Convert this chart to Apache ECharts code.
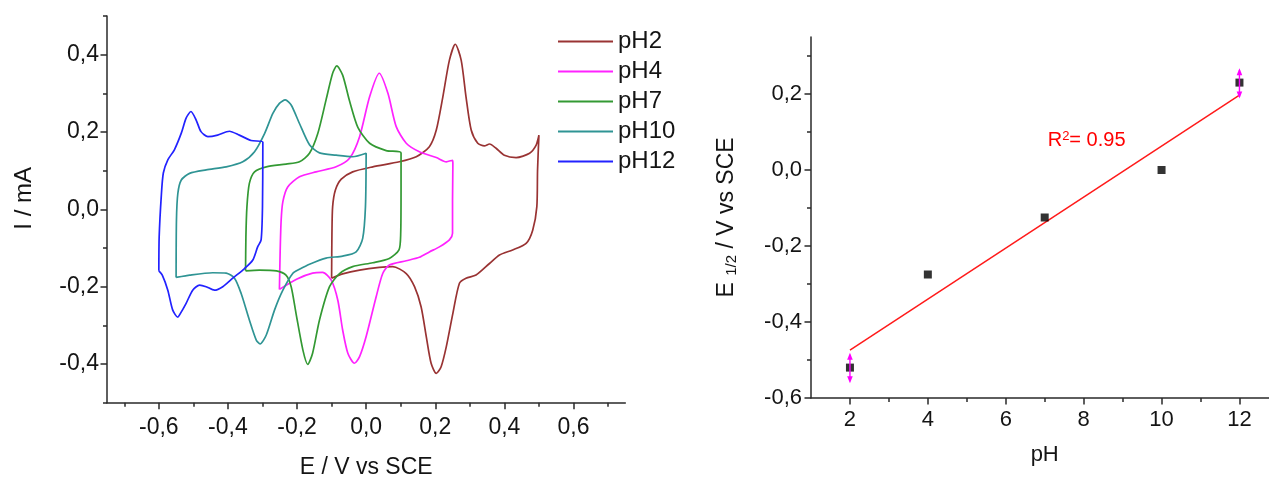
<!DOCTYPE html>
<html><head><meta charset="utf-8">
<script src="https://cdn.jsdelivr.net/npm/echarts@6/dist/echarts.min.js"></script>
<style>html,body{margin:0;padding:0;background:#fff}#c{width:1269px;height:479px}</style>
</head><body><div id="c"></div>
<script>
// ---------- Left chart: cyclic voltammograms (E / V, I / mA) ----------
const seriesNames = ['pH2', 'pH4', 'pH7', 'pH10', 'pH12'];
const seriesColors = ['#993333', '#ff22ff', '#339933', '#2f9494', '#2222ff'];

const cvPH2 = [[-0.100,-0.178],[-0.099,-0.062],[-0.097,0.007],[-0.089,0.050],[-0.072,0.078],[-0.039,0.097],[0.019,0.110],[0.096,0.123],[0.145,0.136],[0.183,0.162],[0.203,0.205],[0.222,0.291],[0.241,0.386],[0.258,0.427],[0.275,0.386],[0.289,0.291],[0.304,0.205],[0.323,0.171],[0.342,0.164],[0.357,0.169],[0.376,0.158],[0.400,0.140],[0.434,0.134],[0.473,0.145],[0.492,0.166],[0.500,0.192],[0.496,0.100],[0.494,0.007],[0.482,-0.054],[0.463,-0.088],[0.424,-0.105],[0.386,-0.118],[0.357,-0.140],[0.318,-0.170],[0.289,-0.178],[0.270,-0.191],[0.251,-0.269],[0.232,-0.355],[0.217,-0.407],[0.203,-0.424],[0.188,-0.398],[0.174,-0.329],[0.159,-0.252],[0.140,-0.200],[0.116,-0.166],[0.077,-0.148],[0.038,-0.150],[-0.019,-0.157],[-0.068,-0.167],[-0.100,-0.178]];
const cvPH4 = [[-0.251,-0.207],[-0.249,-0.114],[-0.246,-0.028],[-0.241,0.020],[-0.227,0.058],[-0.193,0.084],[-0.145,0.097],[-0.087,0.110],[-0.048,0.132],[-0.019,0.188],[0.010,0.291],[0.038,0.352],[0.063,0.300],[0.087,0.214],[0.116,0.171],[0.154,0.149],[0.203,0.134],[0.232,0.123],[0.250,0.127],[0.251,0.119],[0.250,0.024],[0.250,-0.062],[0.241,-0.079],[0.212,-0.097],[0.183,-0.110],[0.154,-0.124],[0.116,-0.133],[0.067,-0.144],[0.048,-0.166],[0.029,-0.226],[0.000,-0.329],[-0.019,-0.381],[-0.034,-0.398],[-0.053,-0.372],[-0.068,-0.312],[-0.082,-0.235],[-0.101,-0.183],[-0.126,-0.163],[-0.155,-0.165],[-0.200,-0.180],[-0.251,-0.207]];
const cvPH7 = [[-0.349,-0.159],[-0.348,-0.071],[-0.345,0.007],[-0.338,0.067],[-0.323,0.097],[-0.289,0.110],[-0.232,0.117],[-0.193,0.123],[-0.164,0.145],[-0.140,0.196],[-0.116,0.283],[-0.097,0.352],[-0.085,0.371],[-0.068,0.347],[-0.048,0.280],[-0.024,0.212],[0.010,0.171],[0.058,0.152],[0.101,0.146],[0.101,0.050],[0.100,-0.062],[0.095,-0.105],[0.067,-0.127],[0.019,-0.138],[-0.039,-0.148],[-0.077,-0.166],[-0.106,-0.200],[-0.135,-0.286],[-0.155,-0.372],[-0.169,-0.401],[-0.183,-0.364],[-0.203,-0.269],[-0.217,-0.200],[-0.232,-0.170],[-0.260,-0.159],[-0.309,-0.157],[-0.349,-0.159]];
const cvPH10 = [[-0.550,-0.176],[-0.549,-0.028],[-0.545,0.041],[-0.535,0.076],[-0.511,0.093],[-0.463,0.102],[-0.405,0.110],[-0.357,0.123],[-0.323,0.149],[-0.294,0.196],[-0.270,0.248],[-0.251,0.274],[-0.234,0.283],[-0.217,0.270],[-0.193,0.222],[-0.164,0.167],[-0.135,0.146],[-0.087,0.140],[-0.039,0.136],[0.000,0.145],[-0.002,0.007],[-0.010,-0.075],[-0.029,-0.110],[-0.068,-0.121],[-0.116,-0.126],[-0.164,-0.142],[-0.193,-0.155],[-0.212,-0.165],[-0.241,-0.209],[-0.265,-0.260],[-0.289,-0.325],[-0.307,-0.348],[-0.318,-0.338],[-0.338,-0.286],[-0.362,-0.217],[-0.381,-0.178],[-0.405,-0.165],[-0.444,-0.164],[-0.511,-0.170],[-0.550,-0.176]];
const cvPH12 = [[-0.600,-0.159],[-0.599,-0.071],[-0.593,0.033],[-0.587,0.094],[-0.574,0.128],[-0.555,0.154],[-0.535,0.197],[-0.521,0.236],[-0.507,0.253],[-0.492,0.231],[-0.478,0.201],[-0.458,0.188],[-0.430,0.192],[-0.396,0.202],[-0.367,0.192],[-0.333,0.178],[-0.299,0.174],[-0.300,0.007],[-0.304,-0.079],[-0.314,-0.097],[-0.328,-0.131],[-0.352,-0.153],[-0.386,-0.178],[-0.415,-0.200],[-0.439,-0.209],[-0.463,-0.200],[-0.482,-0.196],[-0.502,-0.209],[-0.521,-0.243],[-0.540,-0.273],[-0.545,-0.279],[-0.560,-0.260],[-0.574,-0.209],[-0.590,-0.170],[-0.600,-0.159]];
const cvData = [cvPH2, cvPH4, cvPH7, cvPH10, cvPH12];

const xTicksLeft = [-0.6, -0.4, -0.2, 0, 0.2, 0.4, 0.6];
const xMinorLeft = [-0.7, -0.5, -0.3, -0.1, 0.1, 0.3, 0.5, 0.7];
const yTicksLeft = [-0.4, -0.2, 0, 0.2, 0.4];
const yMinorLeft = [-0.5, -0.3, -0.1, 0.1, 0.3, 0.5];

// ---------- Right chart: E1/2 vs pH ----------
const pHValues = [2, 4, 7, 10, 12];
const e12Values = [-0.52, -0.275, -0.125, 0.0, 0.23];
const fitPH = [2, 12];
const fitE = [-0.474, 0.197];
const errPH = [2, 12];
const errE = [-0.521, 0.228];
const errSize = [0.04, 0.04];
const xTicksRight = [2, 4, 6, 8, 10, 12];
const xMinorRight = [3, 5, 7, 9, 11, 13];
const yTicksRight = [-0.6, -0.4, -0.2, 0, 0.2];
const yMinorRight = [-0.5, -0.3, -0.1, 0.1, 0.3];
const r2Label = 'R{sup|2}= 0.95';
const r2Anchor = [7.0, 0.079];

const FONT = "'Liberation Sans', Arial, sans-serif";
const TXT = '#141414';
const AX = '#2a2a2a';
const comma = v => v.toFixed(1).replace('.', ',');

function majorAxis(kind, grid, min, max, ticks, fmt, fs, margin, extra) {
  return Object.assign({
    type: 'value', gridIndex: grid, min: min, max: max,
    position: kind === 'x' ? 'bottom' : 'left',
    splitLine: { show: false },
    axisLine: { show: true, onZero: false, lineStyle: { color: AX, width: 1.5 } },
    axisTick: { show: true, inside: false, length: 6.5, customValues: ticks, lineStyle: { color: AX, width: 1.5 } },
    axisLabel: { show: true, customValues: ticks, formatter: fmt, fontSize: fs, color: TXT, fontFamily: FONT, margin: margin },
    nameTextStyle: { fontSize: fs, color: TXT, fontFamily: FONT }
  }, extra || {});
}
function minorAxis(kind, grid, min, max, ticks) {
  return {
    type: 'value', gridIndex: grid, min: min, max: max,
    position: kind === 'x' ? 'bottom' : 'left',
    splitLine: { show: false },
    axisLine: { show: false, onZero: false },
    axisTick: { show: true, inside: false, length: 4, customValues: ticks, lineStyle: { color: AX, width: 1.5 } },
    axisLabel: { show: false }
  };
}

const chart = echarts.init(document.getElementById('c'), null, { renderer: 'canvas' });

const cvSeries = seriesNames.map((n, i) => ({
  name: n, type: 'line', xAxisIndex: 0, yAxisIndex: 0,
  data: cvData[i], showSymbol: false, symbol: 'none', smooth: 0.25,
  color: seriesColors[i],
  lineStyle: { color: seriesColors[i], width: 1.7 },
  itemStyle: { color: seriesColors[i] },
  animation: false, z: 3
}));

const option = {
  animation: false,
  backgroundColor: '#ffffff',
  textStyle: { fontFamily: FONT },
  grid: [
    { left: 107, top: 16, width: 518.3, height: 386.7, containLabel: false, outerBoundsMode: 'none' },
    { left: 811, top: 37, width: 467.4, height: 361, containLabel: false, outerBoundsMode: 'none' }
  ],
  legend: {
    data: seriesNames, orient: 'vertical', left: 558, top: 29.5, padding: 0,
    icon: 'rect', itemWidth: 55, itemHeight: 2, itemGap: 6,
    textStyle: { fontSize: 24, lineHeight: 24, color: TXT, fontFamily: FONT }
  },
  xAxis: [
    majorAxis('x', 0, -0.75, 0.75, xTicksLeft, comma, 23, 13,
      { name: 'E / V vs SCE', nameLocation: 'middle', nameGap: 53 }),
    minorAxis('x', 0, -0.75, 0.75, xMinorLeft),
    majorAxis('x', 1, 1, 13, xTicksRight, v => String(v), 22, 11,
      { name: 'pH', nameLocation: 'middle', nameGap: 46 }),
    minorAxis('x', 1, 1, 13, xMinorRight)
  ],
  yAxis: [
    majorAxis('y', 0, -0.5, 0.5, yTicksLeft, comma, 23, 8,
      { name: 'I / mA', nameLocation: 'middle', nameGap: 71, nameRotate: 90,
        nameTextStyle: { fontSize: 24, color: TXT, fontFamily: FONT, padding: [0, 0, 0, 22] } }),
    minorAxis('y', 0, -0.5, 0.5, yMinorLeft),
    majorAxis('y', 1, -0.6, 0.35, yTicksRight, comma, 22, 9,
      { name: 'E {sub|1/2} / V vs SCE', nameLocation: 'middle', nameGap: 72, nameRotate: 90,
        nameTextStyle: { fontSize: 23, color: TXT, fontFamily: FONT,
          rich: { sub: { fontSize: 15, color: TXT, fontFamily: FONT, verticalAlign: 'bottom', padding: [10, 0, 0, 0] } } } }),
    minorAxis('y', 1, -0.6, 0.35, yMinorRight)
  ],
  series: cvSeries.concat([
    {
      name: 'fit', type: 'line', xAxisIndex: 2, yAxisIndex: 2,
      data: fitPH.map((x, i) => [x, fitE[i]]),
      showSymbol: false, symbol: 'none', lineStyle: { color: '#ff1a1a', width: 1.5 }, z: 2
    },
    {
      name: 'E12', type: 'scatter', xAxisIndex: 2, yAxisIndex: 2,
      data: pHValues.map((x, i) => [x, e12Values[i]]),
      symbol: 'rect', symbolSize: 8, itemStyle: { color: '#000000' }, z: 3
    },
    {
      name: 'err', type: 'custom', xAxisIndex: 2, yAxisIndex: 2,
      data: errPH.map((x, i) => [x, errE[i], errSize[i]]),
      z: 4,
      renderItem: function (params, api) {
        const x = api.value(0), y = api.value(1), e = api.value(2);
        const t = api.coord([x, y + e]);
        const b = api.coord([x, y - e]);
        const h = 7, w = 2.8, col = '#ff00ff';
        return {
          type: 'group', children: [
            { type: 'line', shape: { x1: t[0], y1: t[1] + 2, x2: b[0], y2: b[1] - 2 }, style: { stroke: col, lineWidth: 1.4 } },
            { type: 'polygon', shape: { points: [[t[0], t[1]], [t[0] - w, t[1] + h], [t[0] + w, t[1] + h]] }, style: { fill: col } },
            { type: 'polygon', shape: { points: [[b[0], b[1]], [b[0] - w, b[1] - h], [b[0] + w, b[1] - h]] }, style: { fill: col } }
          ]
        };
      }
    }
  ])
};
chart.setOption(option);

const p = chart.convertToPixel({ xAxisIndex: 2, yAxisIndex: 2 }, r2Anchor);
chart.setOption({
  graphic: [{
    type: 'text', left: p[0] + 3, top: p[1] - 10, z: 10,
    style: {
      text: r2Label, fill: '#ff0000', font: "20px 'Liberation Sans', Arial, sans-serif",
      rich: { sup: { fontSize: 13, fill: '#ff0000', verticalAlign: 'top', padding: [0, 0, 8, 0] } }
    }
  }]
});
</script></body></html>
